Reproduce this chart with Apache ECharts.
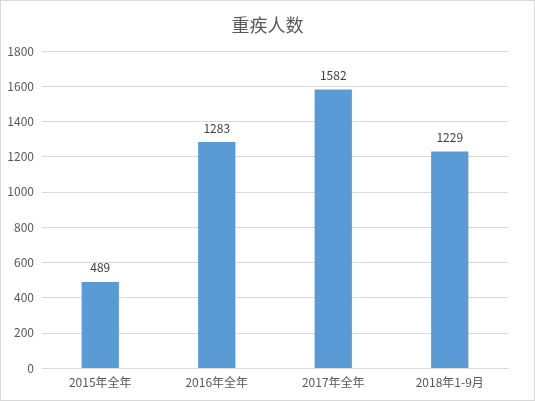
<!DOCTYPE html>
<html>
<head>
<meta charset="utf-8">
<script src="https://cdn.jsdelivr.net/npm/echarts@6/dist/echarts.min.js"></script>
<style>
  html, body { margin: 0; padding: 0; background: #fff; }
  #chart { width: 535px; height: 401px; box-sizing: border-box; border: 1px solid #d9d9d9; }
</style>
</head>
<body>
<div id="chart"></div>
<script>
// 데이터
const categories = ['2015年全年', '2016年全年', '2017年全年', '2018年1-9月']
const counts = [489, 1283, 1582, 1229]

const myChart = echarts.init(document.getElementById('chart'))

const textFont = '"Microsoft YaHei", "Noto Sans CJK SC", sans-serif'

const option = {
  animation: false,
  title: {
    text: '重疾人数',
    left: 'center',
    top: 10,
    textStyle: { color: '#595959', fontSize: 18, fontWeight: 'normal', fontFamily: textFont }
  },
  grid: { left: 41, right: 26, top: 50, bottom: 32 },
  xAxis: {
    type: 'category',
    data: categories,
    axisLine: { lineStyle: { color: '#d9d9d9' } },
    axisTick: { show: false },
    axisLabel: { color: '#595959', fontSize: 12, fontFamily: textFont, margin: 8 }
  },
  yAxis: {
    type: 'value',
    min: 0,
    max: 1800,
    interval: 200,
    axisLine: { show: false },
    axisTick: { show: false },
    axisLabel: {
      color: '#595959',
      fontSize: 12,
      fontFamily: textFont,
      margin: 8,
      formatter: (v) => String(v) // 천 단위 쉼표 없이
    },
    splitLine: { lineStyle: { color: '#d9d9d9' } }
  },
  series: [
    {
      type: 'bar',
      data: counts,
      barWidth: '32%',
      itemStyle: { color: '#5b9bd5' },
      label: {
        show: true,
        position: 'top',
        distance: 8,
        color: '#404040',
        fontSize: 12,
        fontFamily: textFont
      }
    }
  ]
}

myChart.setOption(option)

window.addEventListener('resize', () => {
  myChart.resize()
})
</script>
</body>
</html>
